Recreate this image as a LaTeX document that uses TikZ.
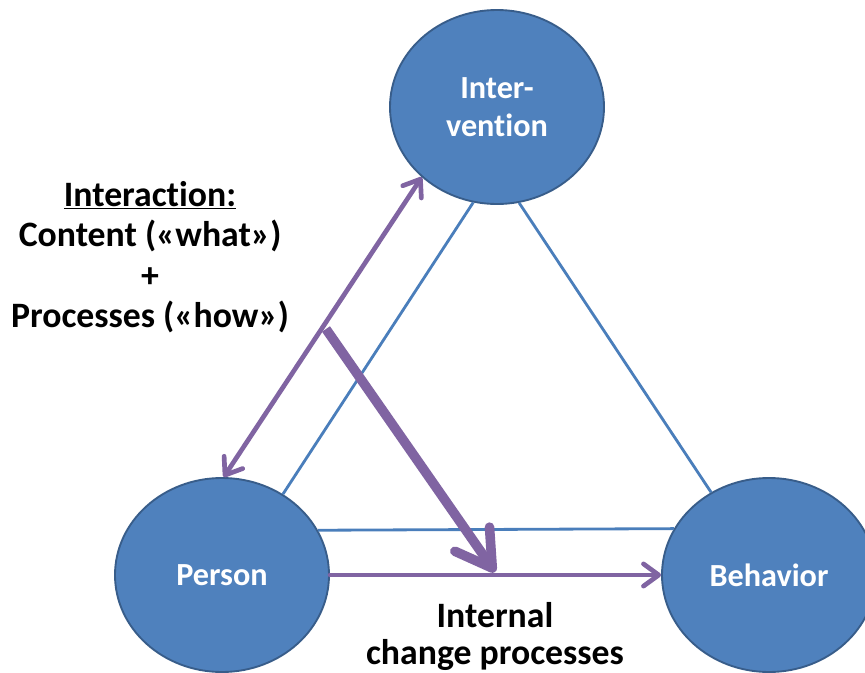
\documentclass[tikz,border=0pt]{standalone}
\usepackage{fontspec}
\setmainfont[Ligatures={NoCommon,NoContextual}]{Carlito}
\usetikzlibrary{arrows.meta,shapes.geometric}
\definecolor{circfill}{RGB}{79,129,189}
\definecolor{circedge}{RGB}{56,93,138}
\definecolor{linkblue}{RGB}{74,126,187}
\definecolor{purp}{RGB}{128,100,162}
\begin{document}
\begin{tikzpicture}[x=0.03cm,y=-0.03cm,
  circ/.style={ellipse, draw=circedge, fill=circfill, line width=1.6pt,
    minimum width=6.42cm, minimum height=5.82cm, inner sep=0pt,
    text=white, align=center, font=\bfseries\fontsize{27.5}{32.4}\selectfont},
  lbl/.style={anchor=base, font=\bfseries\fontsize{30.5}{36}\selectfont, text=black},
  link/.style={draw=linkblue, line width=2.4pt},
  barb/.style={Straight Barb[length=13pt,width=19pt,line cap=round,line join=round]},
  parrow/.style={draw=purp, line width=4pt, line cap=round, arrows={-Straight Barb[length=13pt,width=19pt,line cap=round,line join=round]}},
  pdouble/.style={draw=purp, line width=4pt, line cap=round,
    arrows={Straight Barb[length=13pt,width=19pt,line cap=round,line join=round]-Straight Barb[length=13pt,width=19pt,line cap=round,line join=round]}},
  pthick/.style={draw=purp, line width=8.2pt,
    arrows={-Straight Barb[length=30pt,width=36pt,line cap=round,line join=round]}}
]
\useasboundingbox (0,0) rectangle (865,673);
\fill[white] (0,0) rectangle (865,673);

\node[circ] (interv) at (497,107) {Inter-\\vention};
\node[circ] (person) at (222,575) {Person};
\node[circ] (behav) at (769,575) {Behavior};

% blue triangle links
\draw[link] (interv.256.4) -- (person.53.7);
\draw[link] (interv.283.6) -- (behav.125.7);
\draw[link] (person.25.4) -- (behav.154.6);

% purple arrows
\draw[parrow] (person.east) -- (behav.west);
\draw[pdouble] (person.89) -- (interv.223.4);
\coordinate (ts) at (326,329);
\coordinate (te) at (495,572);
\draw[pthick] (ts) -- (te);

% texts
\node[lbl] (t1) at (150,206) {\underline{Interaction:}};
\node[lbl] (t2) at (150,246) {Content («what»)};
\node[lbl] (t3) at (150,287) {+};
\node[lbl] (t4) at (150,327) {Processes («how»)};
\node[lbl] (t5) at (495,627) {Internal};
\node[lbl] (t6) at (495,664) {change processes};
\end{tikzpicture}
\end{document}
